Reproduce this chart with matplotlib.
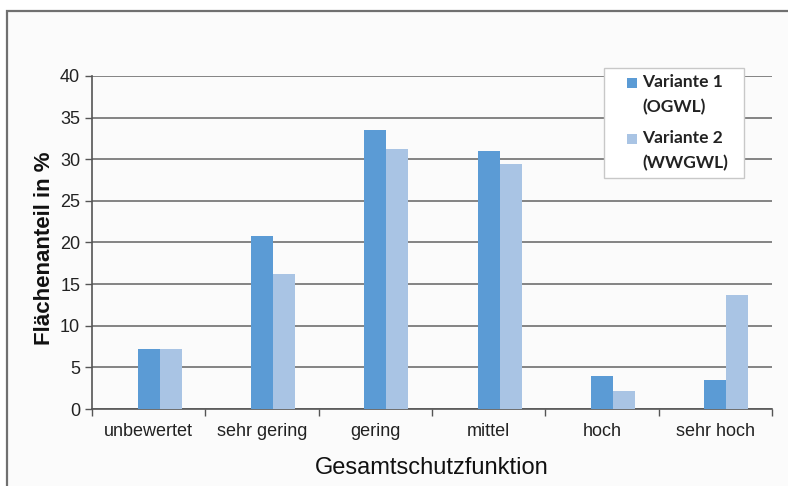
import numpy as np
import matplotlib.pyplot as plt
from matplotlib.patches import Rectangle

kategorien = ["unbewertet", "sehr gering", "gering", "mittel", "hoch", "sehr hoch"]
variante1 = [7.2, 20.8, 33.5, 31.0, 4.0, 3.5]
variante2 = [7.2, 16.2, 31.2, 29.4, 2.2, 13.7]
etiketten = ["Variante 1\n(OGWL)", "Variante 2\n(WWGWL)"]
farben = ["#5b9bd5", "#a9c4e4"]

plt.rcParams['font.family'] = ['Liberation Sans', 'DejaVu Sans']

fig = plt.figure(figsize=(7.88, 4.86), dpi=100)
fig.patch.set_facecolor("white")

# Rahmen um die Grafik (rechts/unten abgeschnitten)
rahmen = Rectangle((7 / 788, -0.1), 1.2, 1.1 - 11 / 486, transform=fig.transFigure,
                   facecolor="#fbfbfb", edgecolor="#707070", linewidth=1.6, zorder=-10)
fig.patches.append(rahmen)

ax = fig.add_axes([92 / 788, 1 - 409 / 486, (772 - 92) / 788, (409 - 76) / 486])
ax.set_zorder(2)
ax.set_facecolor("none")

x = np.arange(len(kategorien))
breite = 0.195
# wie in Excel: Balken etwas nach rechts versetzt
ax.bar(x, variante1, breite, color=farben[0], label=etiketten[0], zorder=3)
ax.bar(x + breite, variante2, breite, color=farben[1], label=etiketten[1], zorder=3)

ax.set_xlim(-0.5, len(kategorien) - 0.5)
ax.set_ylim(0, 40)
ax.set_yticks(np.arange(0, 41, 5))
ax.yaxis.grid(True, color="#7a7a7a", linewidth=1.3, zorder=1)
ax.set_axisbelow(True)

ax.set_xticks(x)
ax.set_xticklabels(kategorien, fontsize=13)
ax.set_xticks(np.arange(-0.5, len(kategorien), 1), minor=True)
ax.tick_params(axis="x", which="major", length=0, pad=10, colors="#222222")
ax.tick_params(axis="x", which="minor", length=5, color="#555555", width=1)
ax.tick_params(axis="y", length=5, color="#555555", width=1, labelsize=13, labelcolor="#222222")

for s in ["top", "right"]:
    ax.spines[s].set_visible(False)
ax.spines["left"].set_color("#555555")
ax.spines["bottom"].set_color("#555555")
ax.spines["left"].set_linewidth(1.2)
ax.spines["bottom"].set_linewidth(1.2)

ax.set_xlabel("Gesamtschutzfunktion", fontsize=17, labelpad=12, color="#111111")
fig.text(45 / 788, 1 - 248 / 486, "Flächenanteil in %", fontsize=16, fontweight="bold",
         rotation=90, ha="center", va="center", color="#111111")

# Legende von Hand, Symbol neben der ersten Zeile
fig.patches.append(Rectangle((604 / 788, 1 - 178 / 486), 140 / 788, 110 / 486,
                             transform=fig.transFigure, facecolor="white",
                             edgecolor="#c8c8c8", linewidth=1, zorder=5))
zeilen_y = [84, 140]
for lab, farbe, yy in zip(etiketten, farben, zeilen_y):
    fig.patches.append(Rectangle((627 / 788, 1 - (yy + 4) / 486), 10 / 788, 10 / 486,
                                 transform=fig.transFigure, facecolor=farbe,
                                 edgecolor="none", zorder=6))
    fig.text(642 / 788, 1 - (yy - 10) / 486, lab, fontsize=12.5, family="Lato",
             fontweight="bold", va="top", ha="left", linespacing=1.7,
             color="#222222", zorder=7)

fig.savefig("out.png", dpi=100)
